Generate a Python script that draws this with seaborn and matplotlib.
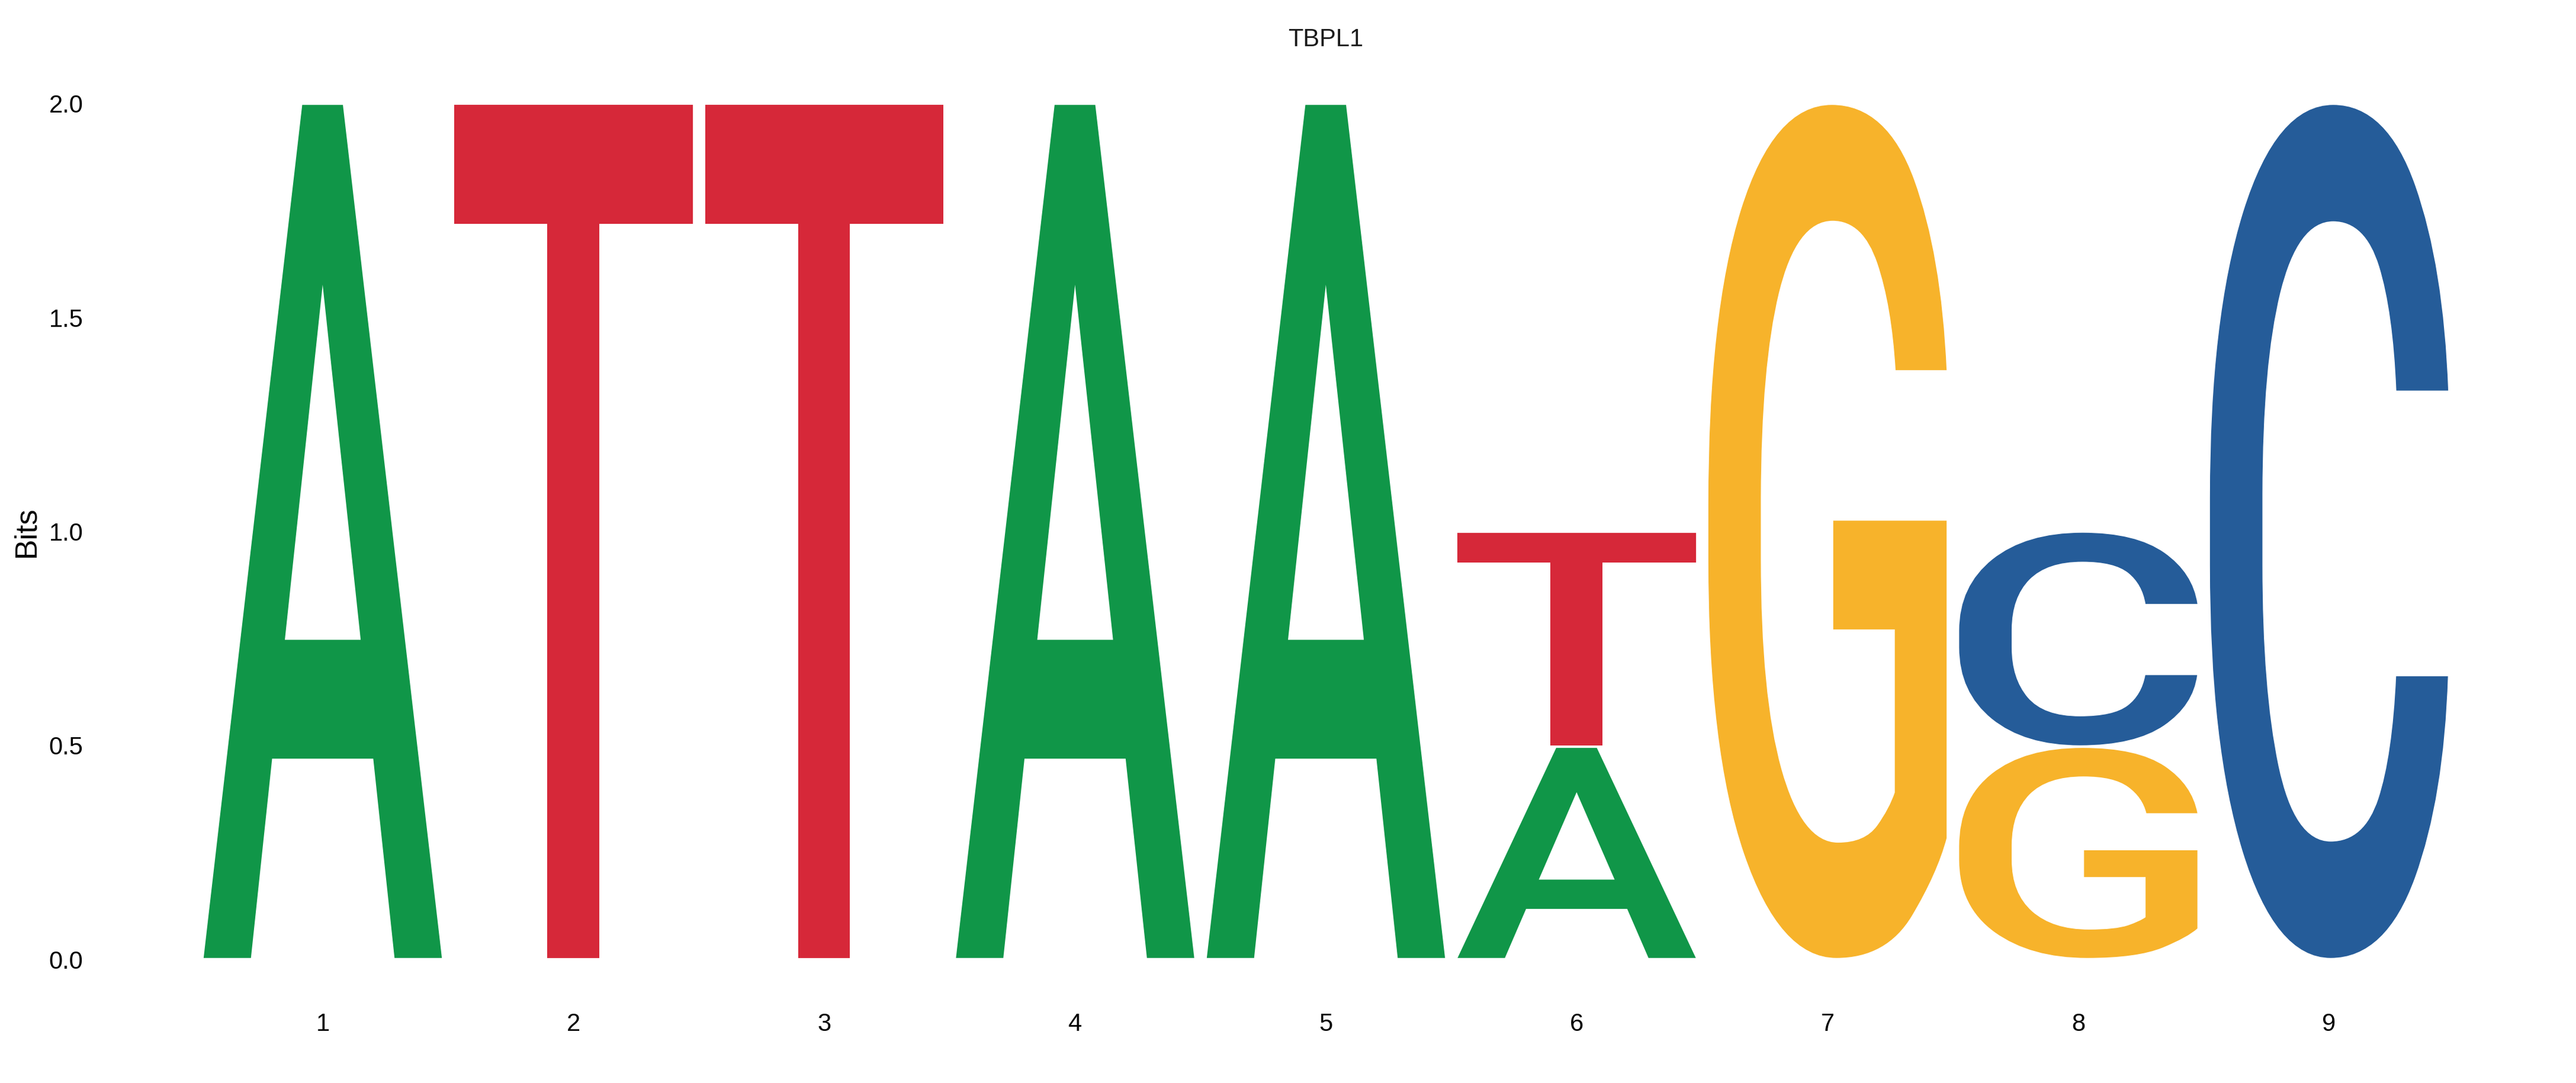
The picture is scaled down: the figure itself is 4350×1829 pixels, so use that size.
import matplotlib
matplotlib.use("Agg")
import matplotlib.pyplot as plt
from matplotlib.textpath import TextPath
from matplotlib.patches import PathPatch
from matplotlib.font_manager import FontProperties
from matplotlib.transforms import Affine2D
import seaborn as sns

# data: information (bits) per letter at each position
positions = [1, 2, 3, 4, 5, 6, 7, 8, 9]
bits_A = [2.0, 0.0, 0.0, 2.0, 2.0, 0.497, 0.0, 0.0, 0.0]
bits_C = [0.0, 0.0, 0.0, 0.0, 0.0, 0.0, 0.0, 0.503, 2.0]
bits_G = [0.0, 0.0, 0.0, 0.0, 0.0, 0.0, 2.0, 0.497, 0.0]
bits_T = [0.0, 2.0, 2.0, 0.0, 0.0, 0.503, 0.0, 0.0, 0.0]
y_ticks = [0.0, 0.5, 1.0, 1.5, 2.0]
title = "TBPL1"

letters = {"A": bits_A, "C": bits_C, "G": bits_G, "T": bits_T}
colors = {"A": "#109648", "C": "#255C99", "G": "#F7B32B", "T": "#D62839"}

sns.set_theme(style="white")
plt.rcParams["font.family"] = ["Liberation Sans", "DejaVu Sans"]

glyph_font = FontProperties(family="Roboto", weight="medium")

fig = plt.figure(figsize=(14.5, 1829 / 300), dpi=300)
ax = fig.add_axes([0.07661, 0.11427, 0.87621, 0.79005])

letter_w = 0.95
vpad = 0.003


def draw_letter(ax, ch, x, y0, h):
    tp = TextPath((0, 0), ch, size=1, prop=glyph_font)
    ext = tp.get_extents()
    tr = (Affine2D()
          .translate(-ext.x0, -ext.y0)
          .scale(letter_w / ext.width, (h - 2 * vpad) / ext.height)
          .translate(x - letter_w / 2, y0 + vpad))
    patch = PathPatch(tr.transform_path(tp), facecolor=colors[ch],
                      edgecolor="none", lw=0)
    ax.add_patch(patch)


# stack letters, smallest at the bottom
for i, x in enumerate(positions):
    stack = sorted([(letters[ch][i], ch) for ch in letters if letters[ch][i] > 0])
    y = 0.0
    for h, ch in stack:
        draw_letter(ax, ch, x, y, h)
        y += h

ax.set_xlim(0.5, 9.5)
ax.set_ylim(0, 2)
ax.set_xticks(positions)
ax.set_xticklabels([str(p) for p in positions])
ax.set_yticks(y_ticks)
ax.set_yticklabels([f"{v:.1f}" for v in y_ticks])
ax.tick_params(axis="x", length=0, pad=21.6, labelsize=10, labelcolor="black")
ax.tick_params(axis="y", length=0, pad=46.3, labelsize=10, labelcolor="black")
ax.set_ylabel("Bits", fontsize=12.4, labelpad=3.1, color="black")
ax.set_title(title, fontsize=10, pad=23.3, color="#1a1a1a")
sns.despine(ax=ax, left=True, bottom=True)
ax.grid(False)

fig.savefig("out.png", dpi=300, facecolor="white")
